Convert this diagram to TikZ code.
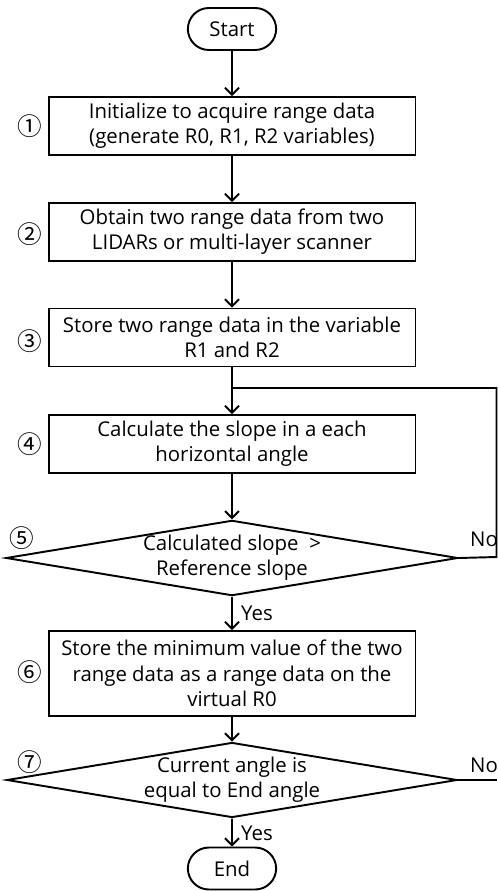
\documentclass[tikz,border=0pt]{standalone}
\usepackage{fontspec}
\setmainfont{Open Sans}
\newfontfamily\circfont{Noto Sans CJK KR}
\usetikzlibrary{positioning, arrows.meta, shapes.geometric, shapes.misc}

\begin{document}
\begin{tikzpicture}[
    x=0.02cm, y=-0.02cm,
    txt/.style={font=\fontsize{11.6}{14.4}\selectfont},
    stepbox/.style={rectangle, draw, line width=1.1pt, minimum width=7.34cm, minimum height=1.16cm, align=center, inner sep=2pt, txt},
    decision/.style={diamond, draw, line width=1.1pt, aspect=6, minimum width=8.96cm, minimum height=1.48cm, inner sep=0pt, align=center, txt},
    terminal/.style={rounded rectangle, draw, line width=1.1pt, minimum width=2cm, minimum height=0.84cm, txt},
    arr/.style={-{Straight Barb[length=1.4mm, width=2.8mm]}, line width=1.1pt},
    line/.style={line width=1.1pt},
    num/.style={font=\circfont\fontsize{14}{14}\selectfont, inner sep=0pt},
    tag/.style={inner sep=1pt, txt},
]

\useasboundingbox (0,0) rectangle (497,891);

% flow
\node[terminal] (start) at (232,29) {Start};
\node[stepbox] (s1) at (232,126) {Initialize to acquire range data\\(generate R0, R1, R2 variables)};
\node[stepbox] (s2) at (232,232) {Obtain two range data from two\\LIDARs or multi-layer scanner};
\node[stepbox] (s3) at (232,337.5) {Store two range data in the variable\\R1 and R2};
\node[stepbox] (s4) at (232,444) {Calculate the slope in a each\\horizontal angle};
\node[decision] (d5) at (232,558) {Calculated slope\ \ >\\Reference slope};
\node[stepbox, minimum height=1.7cm] (s6) at (232,673.5) {Store the minimum value of the two\\range data as a range data on the\\virtual R0};
\node[decision] (d7) at (232,780) {Current angle is\\equal to End angle};
\node[terminal] (end) at (232,868.5) {End};

% step numbers
\node[num] (n1) at (30,126) {①};
\node[num] (n2) at (30,234) {②};
\node[num] (n3) at (30,341) {③};
\node[num] (n4) at (30,444) {④};
\node[num] (n5) at (22,538) {⑤};
\node[num] (n6) at (30,672) {⑥};
\node[num] (n7) at (30,762) {⑦};

% connectors
\draw[arr] (start) -- (s1);
\draw[arr] (s1) -- (s2);
\draw[arr] (s2) -- (s3);
\draw[arr] (s3) -- (s4);
\draw[arr] (s4) -- (d5);
\draw[arr] (d5) -- (s6);
\draw[arr] (s6) -- (d7);
\draw[arr] (d7) -- (end);

% loops on No
\coordinate (join) at (232,388);
\coordinate (loop5) at (496.5,557);
\coordinate (exit7) at (497,780);
\draw[line] (d5.east) -- (loop5) |- (join);
\draw[line] (d7.east) -- (exit7);

% labels
\node[tag] (yes5) at (257,613) {Yes};
\node[tag] (yes7) at (257,833) {Yes};
\node[tag] (no5) at (484,539) {No};
\node[tag] (no7) at (484,765) {No};

\end{tikzpicture}
\end{document}
